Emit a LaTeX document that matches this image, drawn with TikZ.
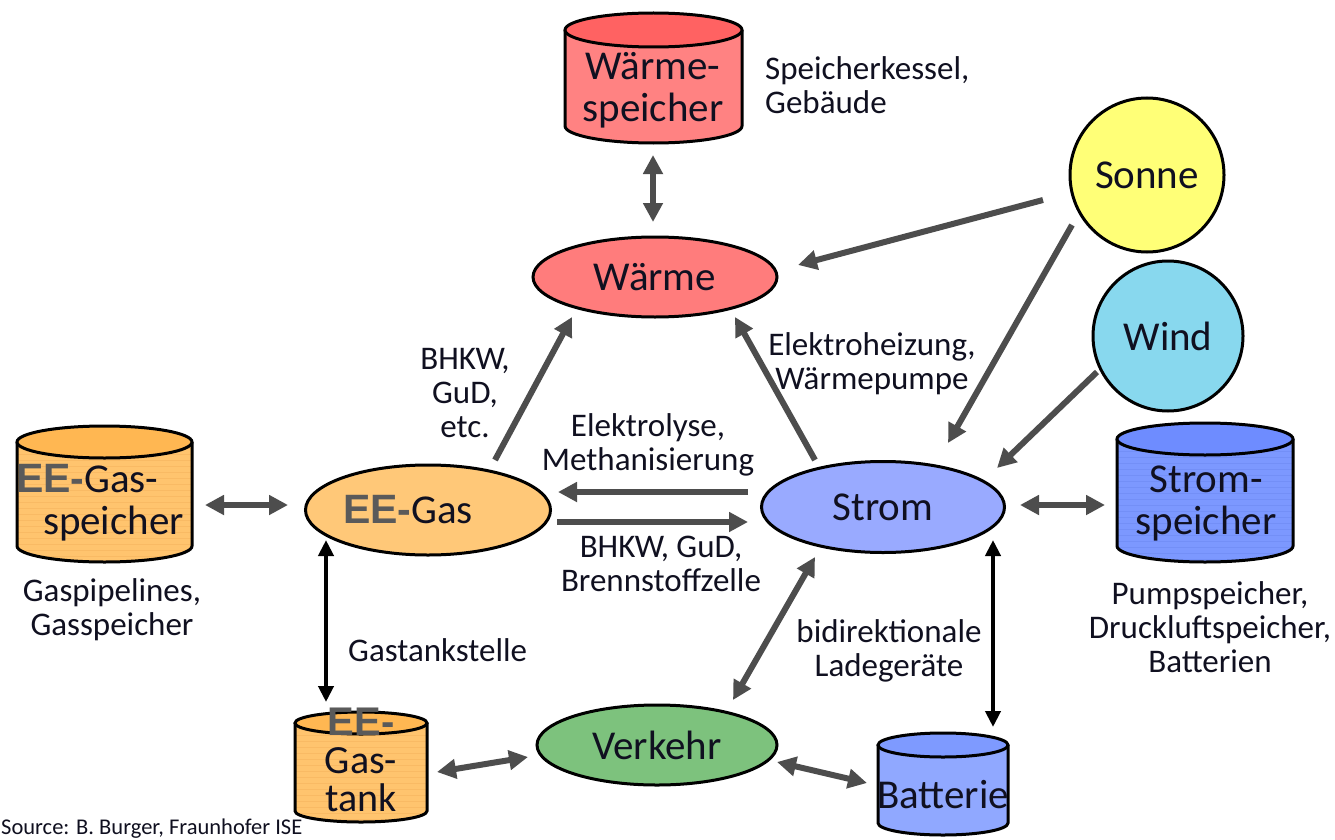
\documentclass[tikz,border=0pt]{standalone}
\usepackage{fontspec}
\setmainfont{Carlito}
\newfontfamily\eefont{Liberation Sans}
\usetikzlibrary{arrows.meta,calc,shapes.geometric}
\definecolor{arrgray}{HTML}{4D4D4D}
\definecolor{txtc}{HTML}{101020}
\definecolor{eegray}{HTML}{5A5A5A}
\definecolor{wsbody}{HTML}{FF8282}
\definecolor{wstop}{HTML}{FF6262}
\definecolor{gasbody}{HTML}{FFC46E}
\definecolor{gastop}{HTML}{FFB752}
\definecolor{gasstripe}{HTML}{E8A048}
\definecolor{ssbody}{HTML}{7C98FF}
\definecolor{sstop}{HTML}{6E8CFF}
\definecolor{ssstripe}{HTML}{5A78E0}
\definecolor{batbody}{HTML}{90A8FF}
\definecolor{battop}{HTML}{7E9AFF}
\definecolor{waermec}{HTML}{FF7C7C}
\definecolor{eegasc}{HTML}{FFC878}
\definecolor{stromc}{HTML}{99AAFF}
\definecolor{verkehrc}{HTML}{7DC27D}
\definecolor{sonnec}{HTML}{FFFF77}
\definecolor{windc}{HTML}{88D8EE}
\newcommand\EE{{\eefont\bfseries\color{eegray}EE-}}
\newcommand\mycyl[8]{%
  \pgfmathsetmacro\cx{(#1+#2)/2}\pgfmathsetmacro\rx{(#2-#1)/2}%
  \pgfmathsetmacro\cb{#5-#4}\pgfmathsetmacro\ka{\cb+0.5523*#4}%
  \pgfmathsetmacro\kb{\cx-0.5523*\rx}\pgfmathsetmacro\kc{\cx+0.5523*\rx}%
  \pgfmathsetmacro\yn{#3+6}%
  \fill[#6] (#1,#3) -- (#1,\cb) .. controls (#1,\ka) and (\kb,#5) .. (\cx,#5) .. controls (\kc,#5) and (#2,\ka) .. (#2,\cb) -- (#2,#3) -- cycle;
  \begin{scope}
    \clip (#1,#3) -- (#1,\cb) .. controls (#1,\ka) and (\kb,#5) .. (\cx,#5) .. controls (\kc,#5) and (#2,\ka) .. (#2,\cb) -- (#2,#3) -- cycle;
    \foreach \yy in {#3,\yn,...,#5}{\draw[#7,line width=0.8pt,opacity=0.25] (#1,\yy) -- (#2,\yy);}
  \end{scope}
  \draw[line width=3pt] (#1,#3) -- (#1,\cb) .. controls (#1,\ka) and (\kb,#5) .. (\cx,#5) .. controls (\kc,#5) and (#2,\ka) .. (#2,\cb) -- (#2,#3);
  \draw[line width=3pt,fill=#8] (\cx,#3) ellipse [x radius=\rx, y radius=#4];
}
\begin{document}
\begin{tikzpicture}[x=1pt,y=-1pt,
  big/.style={font=\fontsize{41}{42}\selectfont, text=txtc, align=center, inner sep=0pt},
  lbl/.style={font=\fontsize{33}{34}\selectfont, text=txtc, align=center, inner sep=0pt},
  ell/.style={ellipse, draw=black, line width=3pt, inner sep=0pt, big},
  circ/.style={circle, draw=black, line width=3pt, inner sep=0pt, big},
  arr/.style={draw=arrgray, line width=6pt, -{Triangle[length=19pt,width=19pt]}},
  barr/.style={draw=arrgray, line width=6pt, {Triangle[length=19pt,width=19pt]}-{Triangle[length=19pt,width=19pt]}},
  karr/.style={draw=black, line width=4pt, {Triangle[length=16pt,width=15pt]}-{Triangle[length=16pt,width=15pt]}}]
\useasboundingbox[fill=white] (0,0) rectangle (1335,840);

% cylinders
\mycyl{565}{742}{30}{17}{143}{wsbody}{wsbody}{wstop}
\mycyl{17}{192}{442}{16}{562}{gasbody}{gasstripe}{gastop}
\mycyl{1117}{1293}{439}{16}{562}{ssbody}{ssstripe}{sstop}
\mycyl{295}{427}{723}{11}{822}{gasbody}{gasstripe}{gastop}
\mycyl{878}{1008}{745}{12}{835}{batbody}{batbody}{battop}

\node[big] (ws) at (653,90) {Wärme-\\speicher};
\node[big, align=left] (egs) at (100,503) {\EE Gas-\\\hspace*{27pt}speicher};
\node[big] (ss) at (1206,503) {Strom-\\speicher};
\node[big, font=\fontsize{40}{38}\selectfont] (egt) at (361,760) {\EE\\Gas-\\tank};
\node[big] (bat) at (943,795) {Batterie};

% ellipses and circles
\node[ell, fill=waermec, minimum width=244pt, minimum height=80pt] (waerme) at (655,277) {Wärme};
\node[ell, fill=eegasc, minimum width=245pt, minimum height=90pt] (eegas) at (428,510) {\EE Gas\hspace*{40pt}};
\node[ell, fill=stromc, minimum width=243pt, minimum height=91pt] (strom) at (883,507) {Strom};
\node[ell, fill=verkehrc, minimum width=240pt, minimum height=80pt] (verkehr) at (657,745) {Verkehr};
\node[circ, fill=sonnec, minimum size=154pt] (sonne) at (1147,175) {Sonne};
\node[circ, fill=windc, minimum size=150pt] (wind) at (1168,336) {Wind};

% labels
\node[lbl, align=left, anchor=west] (l1) at (765,85) {Speicherkessel,\\Gebäude};
\node[lbl] (l2) at (465,393) {BHKW,\\GuD,\\etc.};
\node[lbl] (l3) at (872,364) {Elektroheizung,\\Wärmepumpe};
\node[lbl] (l4) at (648,445) {Elektrolyse,\\Methanisierung};
\node[lbl] (l5) at (661,564) {BHKW, GuD,\\Brennstoffzelle};
\node[lbl, anchor=west] (l6) at (348,650) {Gastankstelle};
\node[lbl] (l7) at (889,651) {bidirektionale\\Ladegeräte};
\node[lbl] (l8) at (112,610) {Gaspipelines,\\Gasspeicher};
\node[lbl] (l9) at (1210,627) {Pumpspeicher,\\Druckluftspeicher,\\Batterien};
\node[font=\fontsize{22.5}{24}\selectfont, text=txtc, inner sep=0pt, anchor=west] (src) at (1,829) {Source: B. Burger, Fraunhofer ISE};

% connectors
\draw[barr] ($(ws)+(0,65)$) -- ($(waerme)+(-2,-55)$);
\draw[arr] ($(sonne)+(-104,25)$) -- ($(waerme)+(143,-12)$);
\draw[arr] ($(sonne)+(-75,50)$) -- ($(strom)+(65,-64)$);
\draw[arr] ($(wind)+(-71,36)$) -- ($(strom)+(114,-39)$);
\draw[arr] ($(eegas)+(67,-50)$) -- ($(waerme)+(-83,40)$);
\draw[arr] ($(strom)+(-68,-47)$) -- ($(waerme)+(80,40)$);
\draw[arr] ($(strom)+(-135,-15)$) -- ($(eegas)+(130,-18)$);
\draw[arr] ($(eegas)+(129,12)$) -- ($(strom)+(-135,15)$);
\draw[barr] ($(egs)+(105,2)$) -- ($(eegas)+(-140,-5)$);
\draw[barr] ($(strom)+(137,-2)$) -- ($(ss)+(-101,2)$);
\draw[karr] ($(eegas)+(-102,30)$) -- ($(egt)+(-35,-58)$);
\draw[karr] ($(strom)+(110,33)$) -- ($(bat)+(50,-68)$);
\draw[barr] ($(strom)+(-68,50)$) -- ($(verkehr)+(76,-45)$);
\draw[barr] ($(egt)+(76,12)$) -- ($(verkehr)+(-129,12)$);
\draw[barr] ($(verkehr)+(120,17)$) -- ($(bat)+(-76,-12)$);
\end{tikzpicture}
\end{document}
